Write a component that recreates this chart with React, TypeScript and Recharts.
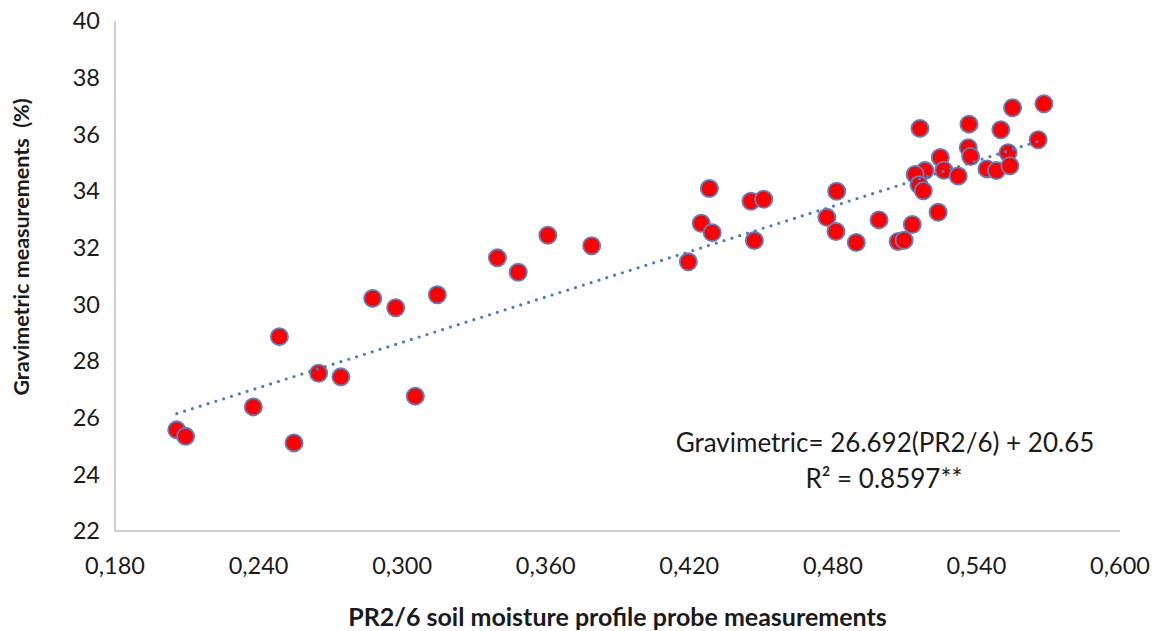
import React from "react";
import { ScatterChart, Scatter, XAxis, YAxis, Customized } from "recharts";

// PR2/6 probe readings (m³/m³) and matching gravimetric moisture (%)
const probeValues = [
  0.2058, 0.2095, 0.2378, 0.2487, 0.2548, 0.2651, 0.2744, 0.2877, 0.2973, 0.3147,
  0.3055, 0.3398, 0.3485, 0.3609, 0.3792, 0.4284, 0.4458, 0.4511, 0.425, 0.4296,
  0.4472, 0.4196, 0.4775, 0.4813, 0.4816, 0.4898, 0.4993, 0.5073, 0.5098, 0.5132,
  0.524, 0.5164, 0.5369, 0.5502, 0.5551, 0.5682, 0.5658, 0.5249, 0.5366, 0.5376,
  0.5185, 0.5144, 0.516, 0.5178, 0.5264, 0.5324, 0.5444, 0.5484, 0.5532, 0.554,
];
const gravimetricValues = [
  25.57, 25.34, 26.38, 28.86, 25.11, 27.57, 27.44, 30.21, 29.88, 30.34,
  26.76, 31.64, 31.13, 32.44, 32.07, 34.09, 33.64, 33.71, 32.86, 32.53,
  32.25, 31.5, 33.07, 32.57, 33.99, 32.18, 32.98, 32.22, 32.26, 32.82,
  33.25, 36.21, 36.36, 36.16, 36.94, 37.08, 35.81, 35.18, 35.53, 35.22,
  34.72, 34.58, 34.22, 34.01, 34.73, 34.53, 34.78, 34.72, 35.35, 34.89,
];

const xTicks = [0.18, 0.24, 0.3, 0.36, 0.42, 0.48, 0.54, 0.6];
const yTicks = [22, 24, 26, 28, 30, 32, 34, 36, 38, 40];

// Linear fit reported on the chart
const slope = 26.692;
const intercept = 20.65;
const equationText = "Gravimetric= 26.692(PR2/6) + 20.65";
const rSquaredText = "R² = 0.8597**";
const xTitle = "PR2/6 soil moisture profile probe measurements";
const yTitle = "Gravimetric measurements  (%)";

const points = probeValues.map((x, i) => ({ x, y: gravimetricValues[i] }));
const minX = Math.min(...probeValues);
const maxX = Math.max(...probeValues);
const trend = [minX, maxX].map((x) => ({ x, y: slope * x + intercept }));

const FONT = "Lato, 'Open Sans', sans-serif";
const INK = "#1a1a1a";

const Dot = (props: any) => {
  const { cx, cy } = props;
  if (cx == null || cy == null) return <g />;
  return <circle cx={cx} cy={cy} r={8.6} fill="#FF0000" stroke="#5585C8" strokeWidth={1.8} />;
};

// Fit equation and the rotated y-axis title
const Annotations = () => (
  <g fontFamily={FONT} fill={INK}>
    <g fontSize={26} textAnchor="middle">
      <text x={885} y={452}>{equationText}</text>
      <text x={884} y={488}>{rSquaredText}</text>
    </g>
    <text
      x={29}
      y={247}
      transform="rotate(-90 29 247)"
      textAnchor="middle"
      fontSize={21.5}
      fontWeight={700}
      style={{ whiteSpace: "pre" }}
    >
      {yTitle}
    </text>
  </g>
);

export default function App() {
  return (
    <div style={{ position: "absolute", left: 0, top: 0, width: 1161, height: 631, background: "#fff" }}>
      <ScatterChart
        width={1161}
        height={631}
        margin={{ top: 21, right: 41, bottom: 0, left: 0 }}
      >
        <XAxis
          type="number"
          dataKey="x"
          domain={[0.18, 0.6]}
          ticks={xTicks}
          tickFormatter={(v: number) => v.toFixed(3).replace(".", ",")}
          height={100}
          axisLine={{ stroke: "#BFBFBF", strokeWidth: 1.5 }}
          tickLine={false}
          tickSize={0}
          tickMargin={26}
          tick={{ fill: INK, fontSize: 23.5, fontFamily: FONT }}
          label={{
            value: xTitle,
            position: "insideBottom",
            offset: 5,
            style: { fill: INK, fontSize: 25, fontWeight: 700, fontFamily: FONT },
          }}
        />
        <YAxis
          type="number"
          dataKey="y"
          domain={[22, 40]}
          ticks={yTicks}
          width={115}
          axisLine={{ stroke: "#BFBFBF", strokeWidth: 1.5 }}
          tickLine={false}
          tickSize={0}
          tickMargin={15}
          tick={{ fill: INK, fontSize: 23.5, fontFamily: FONT }}
        />
        <Scatter data={points} shape={<Dot />} isAnimationActive={false} />
        <Scatter
          data={trend}
          shape={() => <g />}
          line={{ stroke: "#4A7CC4", strokeWidth: 3.2, strokeDasharray: "0 8.2", strokeLinecap: "round" }}
          isAnimationActive={false}
        />
        <Customized component={Annotations} />
      </ScatterChart>
    </div>
  );
}
